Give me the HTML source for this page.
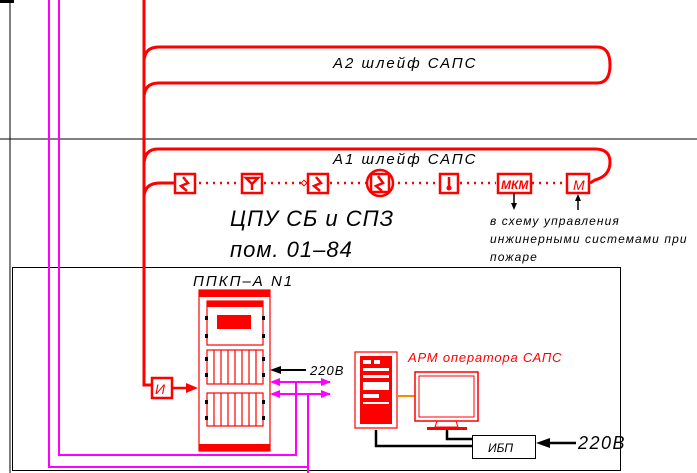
<!DOCTYPE html>
<html><head><meta charset="utf-8"><style>body{margin:0;background:#fff}svg{display:block}text{font-family:"Liberation Sans",sans-serif;font-style:italic}</style></head><body>
<svg width="697" height="473" viewBox="0 0 697 473" xmlns="http://www.w3.org/2000/svg">
<rect width="697" height="473" fill="#fff"/>
<line x1="10" y1="0" x2="10" y2="473" stroke="#000" stroke-width="1"/>
<rect x="0" y="0" width="14" height="3" fill="#000"/>
<line x1="0" y1="139" x2="697" y2="139" stroke="#000" stroke-width="1"/>
<rect x="12.5" y="267.5" width="608" height="203" fill="none" stroke="#000" stroke-width="1"/>
<g stroke="#f0f" stroke-width="2" fill="none">
<polyline points="49,0 49,467 308,467 308,473"/>
<polyline points="59,0 59,455 296,455 296,382"/>
<line x1="272" y1="382" x2="330" y2="382"/>
<line x1="272" y1="394" x2="330" y2="394"/>
<line x1="308" y1="394" x2="308" y2="473"/>
</g>
<g fill="#f0f">
<polygon points="270,382 280,378 280,386"/><polygon points="331,382 321,378 321,386"/>
<polygon points="270,394 280,390 280,398"/><polygon points="331,394 321,390 321,398"/>
</g>
<g stroke="#f00" stroke-width="3" fill="none">
<polyline points="144,0 144,385 152,385"/>
<path d="M144,62 Q144,47 159,47 L597,47 Q610,47 610,65 Q610,83 597,83 L159,83 Q144,83 144,98"/>
<path d="M144,165 Q144,149 158,149 L595,149 Q610,149 610,162 Q610,176 595,180 L590,183"/>
<path d="M144,198 Q144,183 160,183 L175,183"/>
</g>
<g stroke="#f00" stroke-width="2.5" stroke-dasharray="2,5" fill="none">
<line x1="199" y1="183" x2="240" y2="183"/><line x1="264" y1="183" x2="302" y2="183"/>
<line x1="330" y1="183" x2="368" y2="183"/><line x1="398" y1="183" x2="440" y2="183"/>
<line x1="460" y1="183" x2="496" y2="183"/><line x1="532" y1="183" x2="566" y2="183"/>
</g>
<g stroke="#f00" stroke-width="2.5" fill="none">
<rect x="175" y="174" width="20" height="19"/><polyline points="183,177 188,183 181,186 187,191"/>
<rect x="242" y="174" width="20" height="19"/><path d="M246,178 L258,178 L252,184 Z M252,184 L252,190"/>
<rect x="308" y="174" width="20" height="19"/><polyline points="316,177 321,183 314,186 320,191"/>
<rect x="371" y="174" width="18" height="18"/><circle cx="380" cy="183" r="13"/><polyline points="378,176 383,183 376,186 382,191"/>
<rect x="440" y="174" width="18" height="19"/><line x1="449" y1="177" x2="449" y2="187"/>
<rect x="498" y="174" width="33" height="19"/>
<rect x="567" y="174" width="22" height="19"/>
<rect x="152" y="378" width="20" height="20"/>
</g>
<rect x="302" y="181" width="4" height="4" fill="none" stroke="#f00" transform="rotate(45 304 183)"/>
<circle cx="449" cy="188" r="2.5" fill="#f00"/>
<text x="501" y="189" font-size="12" fill="#f00" font-weight="bold">МКМ</text>
<text x="573" y="190" font-size="14" fill="#f00">М</text>
<text x="155" y="394" font-size="14" fill="#f00">И</text>
<line x1="172" y1="388" x2="188" y2="388" stroke="#f00" stroke-width="2.5"/><polygon points="198,388 186,383 186,393" fill="#f00"/>
<g stroke="#000" stroke-width="1.5"><line x1="514" y1="193" x2="514" y2="205"/><line x1="578" y1="197" x2="578" y2="210"/></g>
<polygon points="514,210 511,203 517,203" fill="#000"/><polygon points="578,194 575,201 581,201" fill="#000"/>
<text x="333" y="68" font-size="15" letter-spacing="2" fill="#000">А2 шлейф САПС</text>
<text x="333" y="164" font-size="15" letter-spacing="2" fill="#000">А1 шлейф САПС</text>
<text x="230" y="226" font-size="22" letter-spacing="1" fill="#000">ЦПУ СБ и СПЗ</text>
<text x="230" y="257" font-size="22" letter-spacing="1" fill="#000">пом. 01–84</text>
<text x="490" y="225" font-size="12" letter-spacing="1.1" fill="#000">в схему управления</text>
<text x="490" y="243" font-size="12" letter-spacing="1.1" fill="#000">инжинерными системами при</text>
<text x="490" y="261" font-size="12" letter-spacing="1.1" fill="#000">пожаре</text>
<text x="193" y="286" font-size="15" letter-spacing="2" fill="#000">ППКП–А  N1</text>
<g stroke="#f00" fill="none" stroke-width="1.2">
<rect x="199" y="290" width="71" height="161"/>
<rect x="207" y="301" width="56" height="44"/>
<rect x="207" y="350" width="56" height="34"/>
<rect x="207" y="393" width="56" height="33"/>
</g>
<rect x="199" y="290" width="71" height="7" fill="#f00"/>
<rect x="199" y="444" width="71" height="7" fill="#f00"/>
<rect x="207" y="301" width="56" height="6" fill="#f00"/>
<rect x="217" y="315" width="34" height="14" fill="#f00"/>
<g stroke="#f00" stroke-width="1.2">
<line x1="214" y1="350" x2="214" y2="384"/><line x1="221" y1="350" x2="221" y2="384"/><line x1="228" y1="350" x2="228" y2="384"/><line x1="235" y1="350" x2="235" y2="384"/><line x1="242" y1="350" x2="242" y2="384"/><line x1="249" y1="350" x2="249" y2="384"/><line x1="256" y1="350" x2="256" y2="384"/>
<line x1="214" y1="393" x2="214" y2="426"/><line x1="221" y1="393" x2="221" y2="426"/><line x1="228" y1="393" x2="228" y2="426"/><line x1="235" y1="393" x2="235" y2="426"/><line x1="242" y1="393" x2="242" y2="426"/><line x1="249" y1="393" x2="249" y2="426"/><line x1="256" y1="393" x2="256" y2="426"/>
</g>
<g fill="#000"><rect x="205" y="316" width="3" height="4"/><rect x="205" y="334" width="3" height="4"/><rect x="262" y="316" width="3" height="4"/><rect x="262" y="334" width="3" height="4"/>
<rect x="205" y="357" width="3" height="4"/><rect x="205" y="373" width="3" height="4"/><rect x="262" y="357" width="3" height="4"/><rect x="262" y="373" width="3" height="4"/>
<rect x="205" y="400" width="3" height="4"/><rect x="205" y="416" width="3" height="4"/><rect x="262" y="400" width="3" height="4"/><rect x="262" y="416" width="3" height="4"/></g>
<line x1="278" y1="370" x2="306" y2="370" stroke="#000" stroke-width="2"/><polygon points="270,370 281,366 281,374" fill="#000"/>
<text x="310" y="375" font-size="13" letter-spacing="1" fill="#000">220В</text>
<rect x="355" y="352" width="42" height="76" fill="none" stroke="#f00" stroke-width="1.2"/>
<rect x="360" y="356" width="32" height="68" fill="#f00"/>
<g fill="#fff"><rect x="363" y="360" width="8" height="4"/><rect x="374" y="360" width="6" height="4"/><rect x="363" y="368" width="26" height="3"/><rect x="363" y="375" width="26" height="3"/><rect x="363" y="382" width="26" height="8"/><rect x="363" y="394" width="16" height="4"/><rect x="363" y="402" width="26" height="2"/></g>
<line x1="397" y1="396" x2="415" y2="396" stroke="#f80" stroke-width="2"/>
<rect x="415" y="372" width="63" height="49" fill="none" stroke="#f00" stroke-width="1.5"/>
<rect x="419" y="376" width="55" height="41" fill="none" stroke="#f00" stroke-width="1"/>
<path d="M437,421 L435,427 L458,427 L456,421" fill="none" stroke="#f00"/>
<rect x="427" y="427" width="40" height="3" fill="#f00"/>
<text x="408" y="362" font-size="13" letter-spacing="0.8" fill="#f00">АРМ оператора САПС</text>
<g stroke="#000" stroke-width="2.5" fill="none">
<polyline points="376,430 376,446 472,446"/>
<polyline points="447,430 447,439 472,439"/>
<line x1="548" y1="443" x2="576" y2="443"/>
</g>
<polygon points="536,443 550,438 550,448" fill="#000"/>
<rect x="472.5" y="435.5" width="63" height="23" fill="#fff" stroke="#000"/>
<text x="488" y="452" font-size="12" fill="#000">ИБП</text>
<text x="578" y="449" font-size="18" letter-spacing="1.5" fill="#000">220В</text>
</svg>
</body></html>
